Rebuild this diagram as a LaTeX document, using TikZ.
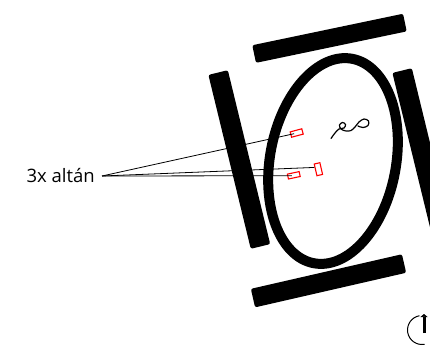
\documentclass[tikz,border=0pt]{standalone}
\usepackage{fontspec}
\setmainfont{Open Sans}
\usetikzlibrary{arrows.meta,calc}
\tikzset{
  bar/.style={fill=black, draw=none, rounded corners=2pt, inner sep=0pt},
  altan/.style={draw=red, line width=1.1pt, inner sep=0pt, minimum width=12pt, minimum height=5.5pt},
  leader/.style={line width=0.8pt},
  labeltext/.style={font=\fontsize{18.5}{22}\selectfont, inner sep=0pt},
}
\begin{document}
\begin{tikzpicture}[x=1pt,y=-1pt]
\useasboundingbox (0,0) rectangle (430,346);
\clip (0,0) rectangle (430,346);

% four dark bars framing the oval
\node[bar, minimum width=154pt, minimum height=18pt, rotate=11.8] (topbar) at (329.5,38.3) {};
\node[bar, minimum width=155pt, minimum height=19pt, rotate=12.9] (botbar) at (328.5,280.8) {};
\node[bar, minimum width=20pt, minimum height=179pt, rotate=13.7] (leftbar) at (239.3,159.5) {};
\node[bar, minimum width=20pt, minimum height=179pt, rotate=13.7] (rightbar) at (423.3,157.5) {};

% the oval
\draw[line width=10pt, rotate around={-10.6:(333,161)}] (333,161) ellipse [x radius=63, y radius=104];

% squiggle inside the oval
\draw[line width=1.2pt, line cap=round] plot[smooth, tension=0.6] coordinates
  {(331,138.5) (335,133) (339,129) (344,128) (345.5,124.5) (342.5,122.5) (339.5,125) (341,129) (346,131) (351,130.5) (355,127) (359,122) (364,119) (368.5,121) (368,125.5) (363,127.5) (358,126)};

% three small markers
\node[altan, rotate=15] (r1) at (296.7,133) {};
\node[altan, rotate=13, minimum width=5.8pt, minimum height=12pt] (r2) at (318.4,169.2) {};
\node[altan, rotate=12, minimum height=5pt] (r3) at (293.8,175.3) {};

% label and leader lines
\node[labeltext, anchor=base east] (label) at (95,182) {3x altán};
\coordinate (src) at (102,176);
\draw[leader] (src) -- ($(r1.west)!0.3!(r1.east)$);
\draw[leader] (src) -- ($(r2.west)!0.4!(r2.north west)$);
\draw[leader] (src) -- ($(r3.west)!0.35!(r3.east)$);

% rotation symbol in the corner
\draw[line width=1pt] (422,330) ++(260:14.5) arc[start angle=260, end angle=80, radius=14.5];
\draw[line width=3pt, -{Triangle[width=7pt,length=3pt]}] (424,333) -- (424,314);
\end{tikzpicture}
\end{document}
